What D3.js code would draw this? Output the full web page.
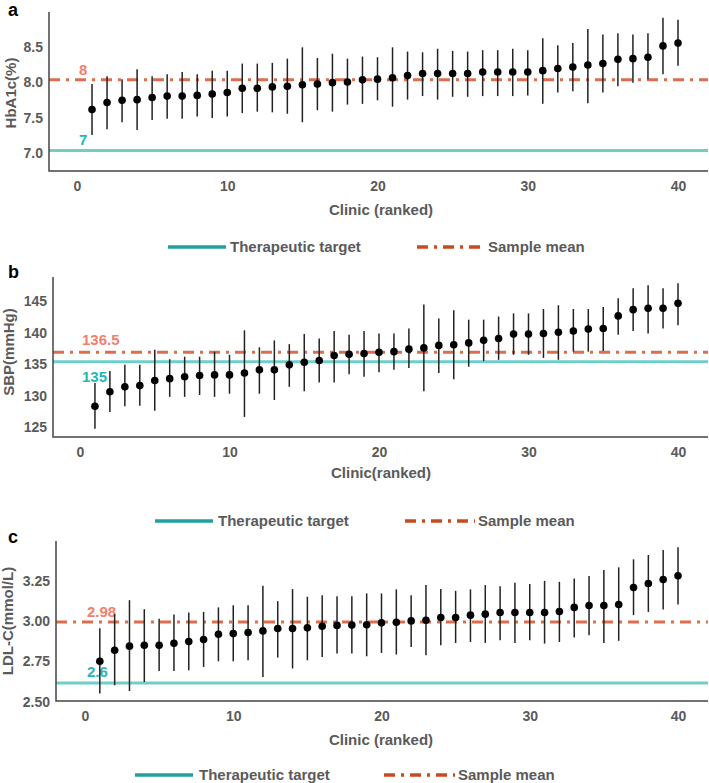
<!DOCTYPE html>
<html>
<head>
<meta charset="utf-8">
<script src="https://cdn.jsdelivr.net/npm/d3@7"></script>
<style>
	body { margin: 0; background: #fff; }
	svg text { font-family: "Liberation Sans", Arial, sans-serif; font-weight: bold; }
	.tick text { fill: #5a5a5a; font-size: 14px; }
	.title { fill: #5a5a5a; font-size: 15px; }
	.legend text { fill: #5a5a5a; font-size: 15px; }
	.letter { fill: #000; font-size: 18px; }
</style>
</head>
<body>
<svg id="chart" width="709" height="783"></svg>
<script>
var clinics = [1,2,3,4,5,6,7,8,9,10,11,12,13,14,15,16,17,18,19,20,
	21,22,23,24,25,26,27,28,29,30,31,32,33,34,35,36,37,38,39,40];
var xTicks = [0, 10, 20, 30, 40];
var legendLabels = ["Therapeutic target", "Sample mean"];

// a: HbA1c
var hba1cMean = [7.58,7.68,7.71,7.72,7.75,7.77,7.77,7.78,7.80,7.82,7.88,7.88,7.90,7.91,7.93,7.94,7.96,7.97,8.00,8.01,
	8.03,8.06,8.09,8.09,8.09,8.09,8.11,8.11,8.11,8.11,8.13,8.16,8.18,8.21,8.23,8.29,8.30,8.32,8.48,8.52];
var hba1cLower = [7.22,7.30,7.40,7.29,7.43,7.45,7.45,7.48,7.46,7.48,7.53,7.55,7.54,7.52,7.40,7.57,7.55,7.65,7.66,7.71,
	7.62,7.72,7.77,7.72,7.76,7.76,7.77,7.77,7.77,7.78,7.66,7.82,7.84,7.67,7.82,7.91,7.96,8.01,8.08,8.20];
var hba1cUpper = [7.94,8.05,8.01,8.15,8.05,8.08,8.11,8.08,8.13,8.13,8.23,8.23,8.24,8.30,8.46,8.31,8.37,8.30,8.33,8.32,
	8.46,8.40,8.39,8.44,8.41,8.40,8.42,8.42,8.44,8.42,8.59,8.49,8.52,8.72,8.64,8.66,8.64,8.66,8.88,8.85];
var hba1cTicks = [7.0, 7.5, 8.0, 8.5];
var hba1cTarget = 7;
var hba1cSampleMean = 8;

// b: SBP
var sbpMean = [127.9,130.2,131.0,131.2,132.0,132.3,132.6,132.8,132.9,132.9,133.2,133.7,133.7,134.5,134.9,135.2,136.0,136.2,136.3,136.5,
	136.6,137.0,137.2,137.6,137.7,138.0,138.4,138.7,139.4,139.4,139.5,139.7,139.9,140.2,140.3,142.3,143.3,143.5,143.5,144.3];
var sbpLower = [124.3,127.0,127.9,128.0,127.2,129.4,129.4,129.7,129.4,129.9,126.2,129.9,128.9,131.0,130.3,131.7,131.7,133.0,132.6,133.3,
	133.7,134.0,130.3,133.2,132.2,134.2,135.1,135.3,136.1,136.1,135.6,135.3,136.6,136.6,136.7,139.3,139.9,139.5,140.3,140.8];
var sbpUpper = [131.6,133.5,134.5,134.5,136.9,135.4,135.8,135.8,136.6,136.1,140.0,137.3,138.4,137.8,139.4,138.7,139.9,139.3,139.9,139.5,
	139.5,140.3,144.1,141.9,143.2,141.7,141.7,142.2,142.7,142.7,143.4,144.0,143.4,143.4,143.7,145.1,146.7,147.2,146.7,147.5];
var sbpTicks = [125, 130, 135, 140, 145];
var sbpTarget = 135;
var sbpSampleMean = 136.5;

// c: LDL-C
var ldlMean = [2.735,2.804,2.829,2.835,2.835,2.847,2.858,2.870,2.903,2.907,2.914,2.924,2.939,2.939,2.943,2.953,2.958,2.960,2.962,2.974,
	2.978,2.986,2.990,3.007,3.007,3.022,3.028,3.038,3.038,3.038,3.038,3.045,3.070,3.082,3.082,3.088,3.194,3.219,3.244,3.267];
var ldlLower = [2.534,2.586,2.550,2.606,2.675,2.675,2.679,2.700,2.735,2.735,2.741,2.637,2.758,2.690,2.741,2.762,2.783,2.783,2.766,2.787,
	2.777,2.824,2.773,2.835,2.849,2.855,2.849,2.866,2.849,2.866,2.845,2.855,2.883,2.897,2.849,2.862,3.022,3.042,3.057,3.088];
var ldlUpper = [2.940,3.028,3.115,3.059,3.000,3.026,3.038,3.042,3.070,3.084,3.084,3.204,3.109,3.184,3.136,3.146,3.140,3.140,3.157,3.157,
	3.182,3.146,3.209,3.184,3.173,3.182,3.209,3.202,3.223,3.215,3.235,3.229,3.250,3.265,3.302,3.319,3.369,3.396,3.427,3.444];
var ldlTicks = [2.50, 2.75, 3.00, 3.25];
var ldlTarget = 2.6;
var ldlSampleMean = 2.98;

var clinic_chart = {
	colors : {
		target : "#6fcfc8",
		mean : "#dc6e4f",
		targetLegend : "#22a09c",
		meanLegend : "#c94a20",
		targetLabel : "#26b6b9",
		meanLabel : "#f2806f"
	},
	dash : "11,6,3,6",

	renderPanel : function (p)
	{
		var c = this.colors;
		var x = d3.scaleLinear().domain([0, 40]).range([p.x0, p.x40]);
		var y = d3.scaleLinear().domain(p.yDomain).range([p.bottom, p.top]);

		var g = this.svg.append("g")
		.classed("panel", true);

		// reference lines
		g.append("line")
		.attr("x1", p.left).attr("x2", p.right)
		.attr("y1", y(p.target)).attr("y2", y(p.target))
		.attr("stroke", c.target)
		.attr("stroke-width", 3);

		g.append("line")
		.attr("x1", p.left).attr("x2", p.right)
		.attr("y1", y(p.sampleMean)).attr("y2", y(p.sampleMean))
		.attr("stroke", c.mean)
		.attr("stroke-width", 3)
		.attr("stroke-dasharray", this.dash);

		g.append("text")
		.text(p.meanText)
		.attr("x", x(0) + 2)
		.attr("y", y(p.sampleMean) + p.meanDy)
		.attr("fill", c.meanLabel)
		.style("font-size", "15px");

		g.append("text")
		.text(p.targetText)
		.attr("x", x(0) + 2)
		.attr("y", y(p.target) + p.targetDy)
		.attr("fill", c.targetLabel)
		.style("font-size", "15px");

		// error bars and points
		g.selectAll("line.bar")
		.data(clinics)
		.enter().append("line")
		.classed("bar", true)
		.attr("x1", function (d) { return x(d); })
		.attr("x2", function (d) { return x(d); })
		.attr("y1", function (d, i) { return y(p.lower[i]); })
		.attr("y2", function (d, i) { return y(p.upper[i]); })
		.attr("stroke", "#222")
		.attr("stroke-width", 1.5);

		g.selectAll("circle.pt")
		.data(clinics)
		.enter().append("circle")
		.classed("pt", true)
		.attr("cx", function (d) { return x(d); })
		.attr("cy", function (d, i) { return y(p.mean[i]); })
		.attr("r", 3.8)
		.attr("fill", "#000");

		// axes
		var xAxis = g.append("g")
		.attr("transform", "translate(0," + p.bottom + ")")
		.call(d3.axisBottom(x).tickValues(xTicks).tickSize(0).tickPadding(10));
		xAxis.select(".domain").remove();

		var yAxis = g.append("g")
		.attr("transform", "translate(" + p.left + ",0)")
		.call(d3.axisLeft(y).tickValues(p.ticks).tickFormat(d3.format(p.format)).tickSize(0).tickPadding(6));
		yAxis.select(".domain").remove();
		yAxis.selectAll("text").attr("dy", "0.5em");

		g.append("path")
		.attr("d", "M" + p.left + "," + p.top + "V" + p.bottom + "H" + p.right)
		.attr("fill", "none")
		.attr("stroke", "#444")
		.attr("stroke-width", 1.5);

		// titles
		g.append("text")
		.classed("title", true)
		.text(p.xTitle)
		.attr("x", 381)
		.attr("y", p.xTitleY)
		.attr("dy", "0.35em")
		.attr("text-anchor", "middle");

		g.append("text")
		.classed("title", true)
		.text(p.yTitle)
		.attr("text-anchor", "middle")
		.attr("dy", "0.35em")
		.attr("transform", "translate(" + p.yTitleX + "," + p.yTitleY + ") rotate(-90)");

		g.append("text")
		.classed("letter", true)
		.text(p.letter)
		.attr("x", 8)
		.attr("y", p.letterY);

		this.renderLegend(p);
	},

	renderLegend : function (p)
	{
		var c = this.colors;
		var l = p.legendX;
		var leg = this.svg.append("g")
		.classed("legend", true)
		.attr("transform", "translate(0," + p.legendY + ")");

		leg.append("line")
		.attr("x1", l[0]).attr("x2", l[1])
		.attr("stroke", c.targetLegend)
		.attr("stroke-width", 3.5);

		leg.append("text")
		.text(legendLabels[0])
		.attr("x", l[2])
		.attr("dy", "0.35em");

		leg.append("line")
		.attr("x1", l[3]).attr("x2", l[4])
		.attr("stroke", c.meanLegend)
		.attr("stroke-width", 3.5)
		.attr("stroke-dasharray", this.dash);

		leg.append("text")
		.text(legendLabels[1])
		.attr("x", l[5])
		.attr("dy", "0.35em");
	},

	init : function (panels)
	{
		this.svg = d3.select("svg#chart");
		for (var i=0; i<panels.length; i++) {
			this.renderPanel(panels[i]);
		}
	}
};

clinic_chart.init([
	{
		letter : "a", letterY : 16,
		mean : hba1cMean, lower : hba1cLower, upper : hba1cUpper,
		ticks : hba1cTicks, format : ".1f",
		target : hba1cTarget, sampleMean : hba1cSampleMean,
		targetText : "7", meanText : "8", targetDy : -6, meanDy : -5,
		yDomain : [6.71, 8.96], top : 12, bottom : 171,
		left : 49, right : 708, x0 : 77, x40 : 678,
		yTitle : "HbA1c(%)", yTitleX : 11, yTitleY : 93,
		xTitle : "Clinic (ranked)", xTitleY : 210,
		legendY : 247, legendX : [168, 226, 230, 417, 485, 488]
	},
	{
		letter : "b", letterY : 278,
		mean : sbpMean, lower : sbpLower, upper : sbpUpper,
		ticks : sbpTicks, format : "d",
		target : sbpTarget, sampleMean : sbpSampleMean,
		targetText : "135", meanText : "136.5", targetDy : 20, meanDy : -7,
		yDomain : [123.0, 148.5], top : 277, bottom : 437,
		left : 53, right : 708, x0 : 80, x40 : 678,
		yTitle : "SBP(mmHg)", yTitleX : 9, yTitleY : 352,
		xTitle : "Clinic(ranked)", xTitleY : 473,
		legendY : 521, legendX : [155, 213, 218, 405, 475, 478]
	},
	{
		letter : "c", letterY : 543,
		mean : ldlMean, lower : ldlLower, upper : ldlUpper,
		ticks : ldlTicks, format : ".2f",
		target : ldlTarget, sampleMean : ldlSampleMean,
		targetText : "2.6", meanText : "2.98", targetDy : -6, meanDy : -5,
		yDomain : [2.488, 3.483], top : 541, bottom : 701,
		left : 56, right : 708, x0 : 85, x40 : 678,
		yTitle : "LDL-C(mmol/L)", yTitleX : 8, yTitleY : 621,
		xTitle : "Clinic (ranked)", xTitleY : 740,
		legendY : 775, legendX : [135, 193, 199, 384, 455, 458]
	}
]);
</script>
</body>
</html>
